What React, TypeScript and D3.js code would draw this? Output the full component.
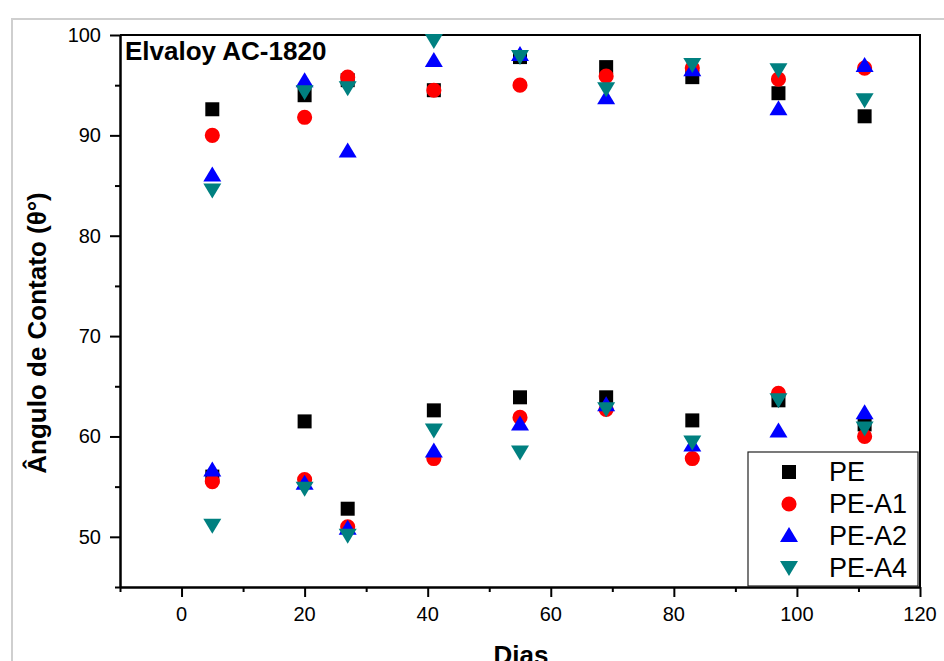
import React, { useEffect, useRef } from "react";
import * as d3 from "d3";

// days of measurement (each day appears twice: upper and lower group)
const days = [5, 20, 27, 41, 55, 69, 83, 97, 111];

const pe = [92.6, 94.0, 95.5, 94.5, 97.8, 96.8, 95.8, 94.2, 91.9,
  56.0, 61.5, 52.8, 62.6, 63.9, 63.9, 61.6, 63.6, 61.2];
const peA1 = [90.0, 91.8, 95.8, 94.5, 95.0, 95.9, 96.7, 95.6, 96.7,
  55.5, 55.7, 51.0, 57.8, 61.9, 62.7, 57.8, 64.3, 60.0];
const peA2 = [86.0, 95.4, 88.4, 97.4, 98.0, 93.7, 96.5, 92.6, 96.9,
  56.6, 55.3, 50.8, 58.5, 61.2, 63.1, 59.1, 60.5, 62.3];
const peA4 = [84.5, 94.3, 94.7, 99.4, 97.8, 94.6, 97.0, 96.5, 93.5,
  51.1, 54.8, 50.1, 60.6, 58.4, 62.7, 59.4, 63.6, 60.8];

const seriesNames = ["PE", "PE-A1", "PE-A2", "PE-A4"];
const seriesValues = [pe, peA1, peA2, peA4];
const seriesColors = ["#000000", "#ff0000", "#0000ff", "#008080"];
const seriesShapes = ["square", "circle", "up", "down"];

const xTicks = [0, 20, 40, 60, 80, 100, 120];
const yTicks = [50, 60, 70, 80, 90, 100];

const W = 944;
const H = 661;
const FONT = "Liberation Sans, Arial, sans-serif";

function markerPath(shape: string) {
  if (shape === "square") return "M-7,-7H7V7H-7Z";
  if (shape === "up") return "M0,-9L9,6H-9Z";
  if (shape === "down") return "M0,8L9,-7H-9Z";
  return d3.symbol(d3.symbolCircle, 180)() as string;
}

export default function App() {
  const ref = useRef<SVGSVGElement>(null);

  useEffect(() => {
    const svg = d3.select(ref.current);
    svg.selectAll("*").remove();

    const left = 120, right = 920, top = 35, bottom = 587;
    const x = d3.scaleLinear().domain([-10, 120]).range([left, right]);
    const y = d3.scaleLinear().domain([45, 100]).range([bottom, top]);

    // light page frame
    svg.append("path")
      .attr("d", `M12,${H}V19H${W}`)
      .attr("fill", "none")
      .attr("stroke", "#cfcfcf")
      .attr("stroke-width", 2);

    // top and right border
    svg.append("path")
      .attr("d", `M${left},${top}H${right}V${bottom}`)
      .attr("fill", "none")
      .attr("stroke", "#000")
      .attr("stroke-width", 2);

    // x axis
    const gx = svg.append("g").attr("transform", `translate(0,${bottom})`);
    gx.call(d3.axisBottom(x).tickValues(d3.range(-10, 121, 10)).tickSize(0).tickFormat(() => ""));
    gx.select(".domain").attr("stroke-width", 2.5);
    gx.selectAll(".tick").append("line")
      .attr("y2", (d: any) => (d % 20 === 0 ? 10 : 5))
      .attr("stroke", "#000")
      .attr("stroke-width", 2);
    gx.selectAll(".tick text").remove();
    svg.append("g").selectAll("text").data(xTicks).join("text")
      .attr("x", (d) => x(d))
      .attr("y", 621)
      .attr("text-anchor", "middle")
      .attr("font-family", FONT)
      .attr("font-size", 20)
      .text((d) => d);

    // y axis
    const gy = svg.append("g").attr("transform", `translate(${left},0)`);
    gy.call(d3.axisLeft(y).tickValues(d3.range(45, 101, 5)).tickSize(0).tickFormat(() => ""));
    gy.select(".domain").attr("stroke-width", 2.5);
    gy.selectAll(".tick").append("line")
      .attr("x2", (d: any) => (d % 10 === 0 ? -10 : -5))
      .attr("stroke", "#000")
      .attr("stroke-width", 2);
    gy.selectAll(".tick text").remove();
    svg.append("g").selectAll("text").data(yTicks).join("text")
      .attr("x", 101)
      .attr("y", (d) => y(d) + 7)
      .attr("text-anchor", "end")
      .attr("font-family", FONT)
      .attr("font-size", 20)
      .text((d) => d);

    // axis titles
    svg.append("text")
      .attr("transform", `translate(46,333) rotate(-90)`)
      .attr("text-anchor", "middle")
      .attr("font-family", FONT)
      .attr("font-weight", "bold")
      .attr("font-size", 26)
      .text("Ângulo de Contato (θ°)");
    svg.append("text")
      .attr("x", 521)
      .attr("y", 664)
      .attr("text-anchor", "middle")
      .attr("font-family", FONT)
      .attr("font-weight", "bold")
      .attr("font-size", 26)
      .text("Dias");

    svg.append("text")
      .attr("x", 125)
      .attr("y", 60)
      .attr("font-family", FONT)
      .attr("font-weight", "bold")
      .attr("font-size", 26)
      .text("Elvaloy AC-1820");

    // points
    seriesValues.forEach((vals, i) => {
      svg.append("g").selectAll("path").data(vals).join("path")
        .attr("d", markerPath(seriesShapes[i]))
        .attr("transform", (v, j) => `translate(${x(days[j % days.length])},${y(v)})`)
        .attr("fill", seriesColors[i]);
    });

    // legend
    const lg = svg.append("g");
    lg.append("rect")
      .attr("x", 748).attr("y", 452).attr("width", 170).attr("height", 134)
      .attr("fill", "#fff").attr("stroke", "#222").attr("stroke-width", 1.2);
    seriesNames.forEach((name, i) => {
      const cy = 472 + i * 32;
      lg.append("path")
        .attr("d", markerPath(seriesShapes[i]))
        .attr("transform", `translate(789,${cy})`)
        .attr("fill", seriesColors[i]);
      lg.append("text")
        .attr("x", 829).attr("y", cy + 9)
        .attr("font-family", FONT)
        .attr("font-size", 27)
        .text(name);
    });
  }, []);

  return (
    <svg ref={ref} width={W} height={H}
      style={{ position: "absolute", left: 0, top: 0, background: "#fff" }} />
  );
}
